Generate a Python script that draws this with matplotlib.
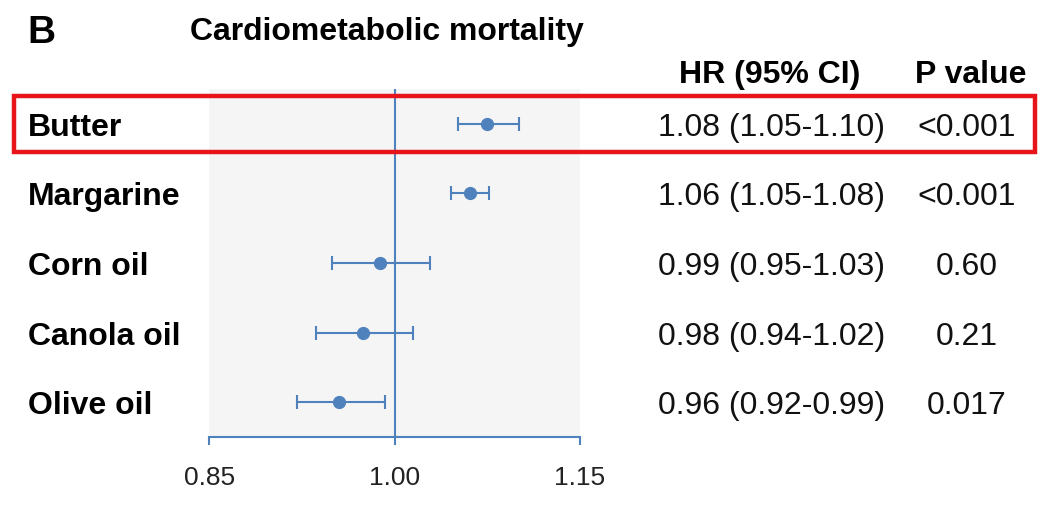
import matplotlib
matplotlib.use("Agg")
import matplotlib.pyplot as plt
from matplotlib.patches import Rectangle
from matplotlib.transforms import blended_transform_factory, ScaledTranslation

plt.rcParams['font.family'] = ['Liberation Sans', 'DejaVu Sans']

# ---- data ----
foods = ["Butter", "Margarine", "Corn oil", "Canola oil", "Olive oil"]
hr_point = [1.075, 1.061, 0.988, 0.974, 0.955]
ci_low = [1.051, 1.046, 0.949, 0.936, 0.921]
ci_high = [1.101, 1.076, 1.029, 1.015, 0.992]
hr_text = ["1.08 (1.05-1.10)", "1.06 (1.05-1.08)", "0.99 (0.95-1.03)",
           "0.98 (0.94-1.02)", "0.96 (0.92-0.99)"]
p_text = ["<0.001", "<0.001", "0.60", "0.21", "0.017"]
x_ticks = [0.85, 1.00, 1.15]
x_ticklabels = ["0.85", "1.00", "1.15"]

W, H = 1061, 506
fig = plt.figure(figsize=(W / 100, H / 100), dpi=100)

blue = "#4F81BD"
ax_l, ax_r, ax_t, ax_b = 209.3, 580.0, 90.0, 438.3
ax = fig.add_axes([ax_l / W, 1 - ax_b / H, (ax_r - ax_l) / W, (ax_b - ax_t) / H])
ax.set_facecolor("#F5F5F5")
ax.set_xlim(0.85, 1.15)
n = len(foods)
ypos = [n - 1 - i for i in range(n)]
ax.set_ylim(-0.5, n - 0.5)

ax.axvline(1.0, color=blue, lw=1.5, zorder=2)
err_lo = [h - l for h, l in zip(hr_point, ci_low)]
err_hi = [u - h for h, u in zip(hr_point, ci_high)]
ax.errorbar(hr_point, ypos, xerr=[err_lo, err_hi], fmt='o', color=blue,
            ecolor=blue, elinewidth=1.5, capsize=5, capthick=1.5,
            markersize=8.5, zorder=3)

for s in ["top", "right", "left"]:
    ax.spines[s].set_visible(False)
ax.spines["bottom"].set_color(blue)
ax.spines["bottom"].set_linewidth(1.5)
ax.set_yticks([])
ax.set_xticks(x_ticks)
ax.set_xticklabels(x_ticklabels)
ax.tick_params(axis='x', direction='out', length=6, width=1.5, color=blue,
               labelsize=19, labelcolor="#222222", pad=14)

tr = blended_transform_factory(fig.transFigure, ax.transData) + \
    ScaledTranslation(0, -3 / 100, fig.dpi_scale_trans)
for y, name, hrs, ps in zip(ypos, foods, hr_text, p_text):
    fig.text(28 / W, y, name, transform=tr, ha='left', va='center',
             fontsize=23, fontweight='bold', color='black')
    fig.text(885 / W, y, hrs, transform=tr, ha='right', va='center',
             fontsize=23, color='#111111')
    fig.text(967 / W, y, ps, transform=tr, ha='center', va='center',
             fontsize=23, color='#111111')

fig.text(27 / W, 1 - 33 / H, "B", ha='left', va='center', fontsize=28,
         fontweight='bold')
fig.text(190 / W, 1 - 32 / H, "Cardiometabolic mortality", ha='left',
         va='center', fontsize=23, fontweight='bold')
fig.text(770 / W, 1 - 75 / H, "HR (95% CI)", ha='center', va='center',
         fontsize=23, fontweight='bold')
fig.text(971 / W, 1 - 75 / H, "P value", ha='center', va='center',
         fontsize=23, fontweight='bold')

# highlight box around Butter row
rx0, rx1, ry0, ry1 = 14, 1035, 97, 153
fig.patches.append(Rectangle((rx0 / W, 1 - ry1 / H), (rx1 - rx0) / W,
                             (ry1 - ry0) / H, transform=fig.transFigure,
                             fill=False, edgecolor="#E8141B", lw=3.2,
                             zorder=10))

fig.savefig("out.png", dpi=100)
